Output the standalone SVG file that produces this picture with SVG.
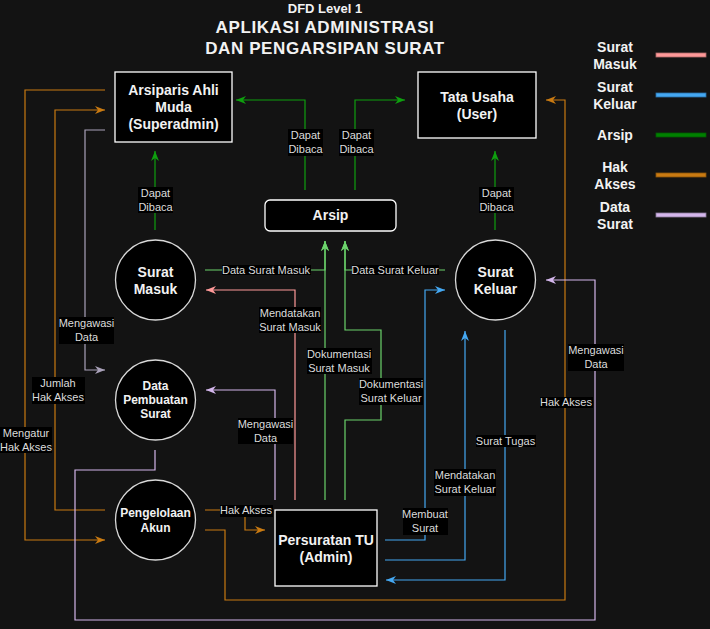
<svg xmlns="http://www.w3.org/2000/svg" width="710" height="629" viewBox="0 0 710 629">
<defs>
<style>
.bg{fill:#131313}
.node{fill:#000;stroke:#fff;stroke-width:1.3}
.circ{fill:#000;stroke:#d8d8d8;stroke-width:1.3}
.nt{font-family:"Liberation Sans",Arial,sans-serif;font-weight:bold;fill:#f2f2f2;text-anchor:middle}
.t14{font-size:14px}
.t12{font-size:12px}
.lbl{font-family:"Liberation Sans",Arial,sans-serif;font-size:11px;fill:#dcdcdc;text-anchor:middle}
.lb{fill:#000}
.c{fill:none;stroke-width:1.2}
.or{stroke:#c97a12}
.gd{stroke:#0f9f0f}
.gl{stroke:#6cd46c}
.pk{stroke:#ff9999}
.bl{stroke:#45a8f2}
.lv{stroke:#d4b6ec}
.gv{stroke:#aaa2ba}
.title{font-family:"Liberation Sans",Arial,sans-serif;fill:#f2f2f2;text-anchor:middle;font-weight:bold}
</style>
<marker id="aor" markerUnits="userSpaceOnUse" markerWidth="11" markerHeight="9" refX="10" refY="4" orient="auto"><path d="M0,0 L10,4 L0,8 L3,4 Z" fill="#c97a12"/></marker>
<marker id="agd" markerUnits="userSpaceOnUse" markerWidth="11" markerHeight="9" refX="10" refY="4" orient="auto"><path d="M0,0 L10,4 L0,8 L3,4 Z" fill="#0f9f0f"/></marker>
<marker id="agl" markerUnits="userSpaceOnUse" markerWidth="11" markerHeight="9" refX="10" refY="4" orient="auto"><path d="M0,0 L10,4 L0,8 L3,4 Z" fill="#6cd46c"/></marker>
<marker id="apk" markerUnits="userSpaceOnUse" markerWidth="11" markerHeight="9" refX="10" refY="4" orient="auto"><path d="M0,0 L10,4 L0,8 L3,4 Z" fill="#ff9999"/></marker>
<marker id="abl" markerUnits="userSpaceOnUse" markerWidth="11" markerHeight="9" refX="10" refY="4" orient="auto"><path d="M0,0 L10,4 L0,8 L3,4 Z" fill="#45a8f2"/></marker>
<marker id="alv" markerUnits="userSpaceOnUse" markerWidth="11" markerHeight="9" refX="10" refY="4" orient="auto"><path d="M0,0 L10,4 L0,8 L3,4 Z" fill="#d4b6ec"/></marker>
<marker id="agv" markerUnits="userSpaceOnUse" markerWidth="11" markerHeight="9" refX="10" refY="4" orient="auto"><path d="M0,0 L10,4 L0,8 L3,4 Z" fill="#aaa2ba"/></marker>
</defs>
<rect class="bg" x="0" y="0" width="710" height="629"/>

<g id="title">
<text class="title" x="325" y="13" font-size="13">DFD Level 1</text>
<text class="title" x="325" y="33" font-size="17" letter-spacing="0.6">APLIKASI ADMINISTRASI</text>
<text class="title" x="325" y="54" font-size="17" letter-spacing="0.6">DAN PENGARSIPAN SURAT</text>
</g>

<g id="connectors">
<path class="c or" d="M105,90 H25 V540 H105" marker-end="url(#aor)"/>
<path class="c or" d="M105,510 H55 V110 H105" marker-end="url(#aor)"/>
<path class="c or" d="M205,510 H245 V530 H265" marker-end="url(#aor)"/>
<path class="c or" d="M205,530 H225 V600 H565 V100 H546" marker-end="url(#aor)"/>
<path class="c gv" d="M105,130 H85 V370 H105" marker-end="url(#agv)"/>
<path class="c gd" d="M155,230 V151" marker-end="url(#agd)"/>
<path class="c gd" d="M305,190 V100 H236" marker-end="url(#agd)"/>
<path class="c gd" d="M355,190 V100 H405" marker-end="url(#agd)"/>
<path class="c gd" d="M495,230 V151" marker-end="url(#agd)"/>
<path class="c gl" d="M205,270 H325 V241" marker-end="url(#agl)"/>
<path class="c gl" d="M325,500 V241" marker-end="url(#agl)"/>
<path class="c gl" d="M445,270 H345 V241" marker-end="url(#agl)"/>
<path class="c gl" d="M345,500 V420 H381 V330 H345 V241" marker-end="url(#agl)"/>
<path class="c pk" d="M295,500 V290 H206" marker-end="url(#apk)"/>
<path class="c lv" d="M275,500 V390 H206" marker-end="url(#alv)"/>
<path class="c lv" d="M155,450 V470 H75 V620 H595 V280 H546" marker-end="url(#alv)"/>
<path class="c bl" d="M385,540 H425 V290 H445" marker-end="url(#abl)"/>
<path class="c bl" d="M385,560 H465 V331" marker-end="url(#abl)"/>
<path class="c bl" d="M505,330 V580 H386" marker-end="url(#abl)"/>
</g>

<g id="labels">
<rect class="lb" x="0" y="427" width="52" height="26"/>
<text class="lbl" x="26" y="437">Mengatur</text><text class="lbl" x="26" y="451">Hak Akses</text>
<rect class="lb" x="32" y="377" width="53" height="27"/>
<text class="lbl" x="58" y="387">Jumlah</text><text class="lbl" x="58" y="401">Hak Akses</text>
<rect class="lb" x="59" y="317" width="55" height="27"/>
<text class="lbl" x="86.5" y="327">Mengawasi</text><text class="lbl" x="86.5" y="341">Data</text>
<rect class="lb" x="138" y="187" width="35" height="26"/>
<text class="lbl" x="155.5" y="197">Dapat</text><text class="lbl" x="155.5" y="211">Dibaca</text>
<rect class="lb" x="288" y="129" width="35" height="27"/>
<text class="lbl" x="305.5" y="139">Dapat</text><text class="lbl" x="305.5" y="153">Dibaca</text>
<rect class="lb" x="339" y="129" width="35" height="27"/>
<text class="lbl" x="356.5" y="139">Dapat</text><text class="lbl" x="356.5" y="153">Dibaca</text>
<rect class="lb" x="479" y="187" width="35" height="26"/>
<text class="lbl" x="496.5" y="197">Dapat</text><text class="lbl" x="496.5" y="211">Dibaca</text>
<rect class="lb" x="222" y="265" width="89" height="10"/>
<text class="lbl" x="266" y="274">Data Surat Masuk</text>
<rect class="lb" x="352" y="265" width="87" height="10"/>
<text class="lbl" x="395" y="274">Data Surat Keluar</text>
<rect class="lb" x="259" y="307" width="62" height="26"/>
<text class="lbl" x="290" y="317">Mendatakan</text><text class="lbl" x="290" y="331">Surat Masuk</text>
<rect class="lb" x="307" y="348" width="65" height="26"/>
<text class="lbl" x="339" y="358">Dokumentasi</text><text class="lbl" x="339" y="372">Surat Masuk</text>
<rect class="lb" x="359" y="378" width="64" height="27"/>
<text class="lbl" x="391" y="388">Dokumentasi</text><text class="lbl" x="391" y="402">Surat Keluar</text>
<rect class="lb" x="238" y="418" width="55" height="26"/>
<text class="lbl" x="265.5" y="428">Mengawasi</text><text class="lbl" x="265.5" y="442">Data</text>
<rect class="lb" x="220" y="505" width="53" height="12"/>
<text class="lbl" x="246" y="514">Hak Akses</text>
<rect class="lb" x="403" y="508" width="45" height="27"/>
<text class="lbl" x="425" y="518">Membuat</text><text class="lbl" x="425" y="532">Surat</text>
<rect class="lb" x="434" y="469" width="62" height="27"/>
<text class="lbl" x="465" y="479">Mendatakan</text><text class="lbl" x="465" y="493">Surat Keluar</text>
<rect class="lb" x="476" y="435" width="60" height="12"/>
<text class="lbl" x="505.5" y="445">Surat Tugas</text>
<rect class="lb" x="540" y="397" width="53" height="11"/>
<text class="lbl" x="566" y="406">Hak Akses</text>
<rect class="lb" x="568" y="344" width="56" height="27"/>
<text class="lbl" x="596" y="354">Mengawasi</text><text class="lbl" x="596" y="368">Data</text>
</g>

<g id="n-arsiparis">
<rect class="node" x="115" y="72" width="117" height="70"/>
<text class="nt t14" x="173.5" y="95">Arsiparis Ahli</text>
<text class="nt t14" x="173.5" y="112">Muda</text>
<text class="nt t14" x="173.5" y="129">(Superadmin)</text>
</g>
<g id="n-tatausaha">
<rect class="node" x="418" y="72" width="118" height="66"/>
<text class="nt t14" x="477" y="102">Tata Usaha</text>
<text class="nt t14" x="477" y="119">(User)</text>
</g>
<g id="n-arsip">
<rect class="node" x="265" y="200" width="131" height="31" rx="5"/>
<text class="nt t14" x="330.5" y="220">Arsip</text>
</g>
<g id="n-suratmasuk">
<circle class="circ" cx="155.5" cy="280" r="40"/>
<text class="nt t14" x="155.5" y="277">Surat</text>
<text class="nt t14" x="155.5" y="294">Masuk</text>
</g>
<g id="n-suratkeluar">
<circle class="circ" cx="495.5" cy="280" r="40"/>
<text class="nt t14" x="495.5" y="277">Surat</text>
<text class="nt t14" x="495.5" y="294">Keluar</text>
</g>
<g id="n-datapembuatan">
<circle class="circ" cx="155.5" cy="400" r="40"/>
<text class="nt t12" x="155.5" y="390">Data</text>
<text class="nt t12" x="155.5" y="404">Pembuatan</text>
<text class="nt t12" x="155.5" y="418">Surat</text>
</g>
<g id="n-pengelolaan">
<circle class="circ" cx="155.5" cy="520" r="40"/>
<text class="nt t12" x="155.5" y="517">Pengelolaan</text>
<text class="nt t12" x="155.5" y="532">Akun</text>
</g>
<g id="n-persuratan">
<rect class="node" x="275" y="510" width="102" height="76"/>
<text class="nt t14" x="326" y="545">Persuratan TU</text>
<text class="nt t14" x="326" y="562">(Admin)</text>
</g>

<g id="legend">
<text class="nt t14" x="615" y="52">Surat</text><text class="nt t14" x="615" y="69">Masuk</text>
<rect x="656" y="53" width="50" height="4" fill="#ff9999" stroke="#b06a6a" stroke-width="0.8"/>
<text class="nt t14" x="615" y="92">Surat</text><text class="nt t14" x="615" y="109">Keluar</text>
<rect x="656" y="93" width="50" height="4" fill="#45a8f2" stroke="#2a6fa8" stroke-width="0.8"/>
<text class="nt t14" x="615" y="140">Arsip</text>
<rect x="656" y="133" width="50" height="4" fill="#008000" stroke="#005a00" stroke-width="0.8"/>
<text class="nt t14" x="615" y="172">Hak</text><text class="nt t14" x="615" y="189">Akses</text>
<rect x="656" y="173" width="50" height="4" fill="#c97a12" stroke="#8a540c" stroke-width="0.8"/>
<text class="nt t14" x="615" y="212">Data</text><text class="nt t14" x="615" y="229">Surat</text>
<rect x="656" y="213" width="50" height="4" fill="#d4b6ec" stroke="#8c7a9c" stroke-width="0.8"/>
</g>
</svg>
